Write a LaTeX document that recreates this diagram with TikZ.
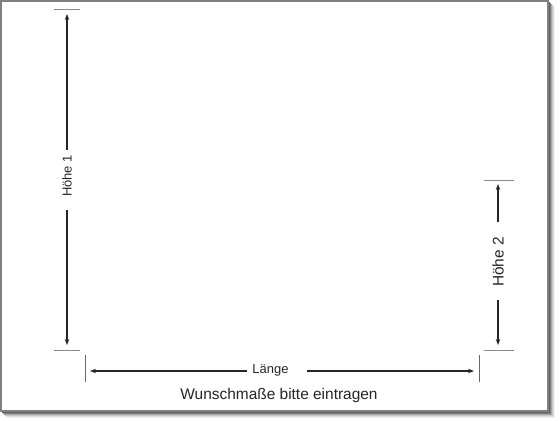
\documentclass[tikz,border=0pt]{standalone}
\usepackage{fontspec}
\setmainfont{Liberation Sans}
\usetikzlibrary{arrows.meta}
\begin{document}
\begin{tikzpicture}[x=1bp,y=-1bp,
  tickline/.style={draw=black!45,line width=0.9bp},
  vtick/.style={draw=black!60,line width=0.9bp},
  dimline/.style={draw=black!85,line width=1.3bp,-{Stealth[length=6bp,width=4.5bp]}},
  lbl/.style={text=black!85,inner sep=0pt,font=\fontsize{13}{13}\selectfont},
  biglbl/.style={text=black!85,inner sep=0pt,font=\fontsize{15.5}{15.5}\selectfont}]
\useasboundingbox (0,0) rectangle (560,420);
% shadow
\foreach \o/\c in {7/6,6/12,5/22,4/35,3/50,2/62}{
  \fill[black!\c] (\o,\o) rectangle (548+\o,411+\o);
}
\fill[white] (0,0) rectangle (548,411);
\draw[black!50,line width=1.5bp] (0.75,0.75) rectangle (548,411);
% Hoehe 1
\coordinate (h1t) at (67,14);
\coordinate (h1b) at (67,345);
\coordinate (h1u) at (67,150);
\coordinate (h1l) at (67,210);
\coordinate (h1tl) at (54,9); \coordinate (h1tr) at (80,9);
\coordinate (h1bl) at (54,350); \coordinate (h1br) at (80,350);
\node[lbl,rotate=90] (h1lab) at (67,176) {Höhe 1};
\draw[dimline] (h1u) -- (h1t);
\draw[dimline] (h1l) -- (h1b);
\draw[tickline] (h1tl) -- (h1tr);
\draw[tickline] (h1bl) -- (h1br);
% Hoehe 2
\coordinate (h2t) at (498,184);
\coordinate (h2b) at (498,345);
\coordinate (h2u) at (498,222);
\coordinate (h2l) at (498,300);
\coordinate (h2tl) at (484,180); \coordinate (h2tr) at (514,180);
\coordinate (h2bl) at (484,350); \coordinate (h2br) at (514,350);
\node[biglbl,rotate=90] (h2lab) at (498,262) {Höhe 2};
\draw[dimline] (h2u) -- (h2t);
\draw[dimline] (h2l) -- (h2b);
\draw[tickline] (h2tl) -- (h2tr);
\draw[tickline] (h2bl) -- (h2br);
% Laenge
\coordinate (ll) at (90,371);
\coordinate (lr) at (474,371);
\coordinate (lu) at (247,371);
\coordinate (lv) at (307,371);
\coordinate (llt) at (85,355); \coordinate (llb) at (85,382);
\coordinate (lrt) at (479,355); \coordinate (lrb) at (479,382);
\node[lbl] (llab) at (270.5,370) {Länge};
\draw[dimline] (lu) -- (ll);
\draw[dimline] (lv) -- (lr);
\draw[vtick] (llt) -- (llb);
\draw[vtick] (lrt) -- (lrb);
% caption
\node[biglbl] (cap) at (279,395) {Wunschmaße bitte eintragen};
\end{tikzpicture}
\end{document}
